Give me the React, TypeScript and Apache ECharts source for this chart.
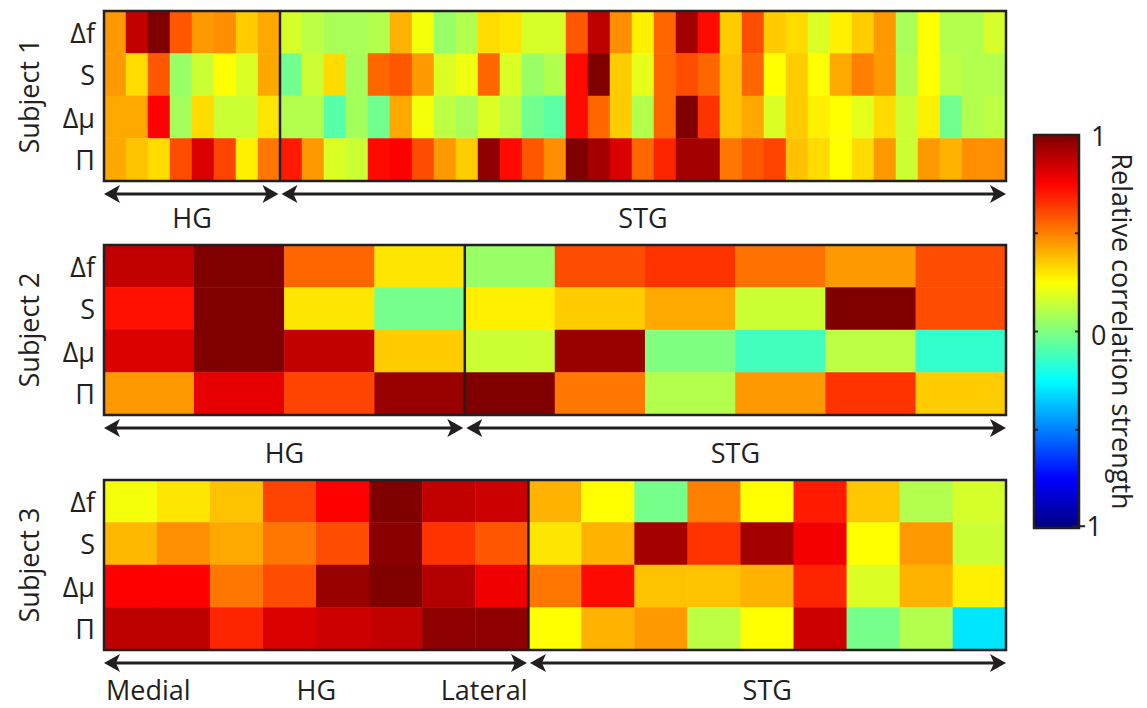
import React, { useEffect, useRef } from "react";
import * as echarts from "echarts";

// Row (feature) labels, top to bottom
const rowLabels = ["Δf", "S", "Δμ", "Π"];

// Subject 1: 8 HG electrodes followed by 33 STG electrodes
const s1Df = [0.45, 0.87, 1.0, 0.58, 0.45, 0.47, 0.35, 0.42, 0.17, 0.12, 0.08, 0.08, 0.1, 0.4, 0.23, 0.05, 0.1, 0.32, 0.3, 0.17, 0.17, 0.58, 0.88, 0.47, 0.28, 0.55, 0.93, 0.73, 0.35, 0.6, 0.35, 0.32, 0.18, 0.28, 0.35, 0.45, 0.08, 0.25, 0.1, 0.1, 0.17];
const s1S = [0.45, 0.32, 0.58, 0.05, 0.15, 0.25, 0.18, 0.42, -0.03, 0.15, 0.32, 0.07, 0.55, 0.58, 0.45, 0.18, 0.22, 0.55, 0.18, 0.05, 0.1, 0.73, 1.0, 0.35, 0.2, 0.55, 0.6, 0.55, 0.37, 0.55, 0.25, 0.35, 0.25, 0.42, 0.5, 0.45, 0.1, 0.25, 0.12, 0.1, 0.1];
const s1Dmu = [0.42, 0.42, 0.75, 0.07, 0.32, 0.15, 0.15, 0.3, 0.1, 0.1, -0.08, 0.07, -0.03, 0.42, 0.23, 0.12, 0.08, 0.18, 0.12, -0.03, -0.07, 0.73, 0.55, 0.35, 0.1, 0.55, 1.0, 0.65, 0.37, 0.42, 0.18, 0.35, 0.28, 0.25, 0.2, 0.32, 0.15, 0.28, -0.03, 0.1, 0.12];
const s1Pi = [0.42, 0.37, 0.32, 0.6, 0.82, 0.62, 0.28, 0.52, 0.7, 0.45, 0.18, 0.15, 0.73, 0.75, 0.6, 0.45, 0.35, 0.97, 0.73, 0.58, 0.47, 1.0, 0.93, 0.82, 0.55, 0.68, 0.93, 0.93, 0.52, 0.58, 0.62, 0.37, 0.32, 0.25, 0.32, 0.45, 0.15, 0.45, 0.4, 0.47, 0.47];
const s1HgCount = 8;

// Subject 2: 4 HG electrodes followed by 6 STG electrodes
const s2Df = [0.87, 1.0, 0.55, 0.3, 0.05, 0.6, 0.65, 0.53, 0.45, 0.6];
const s2S = [0.72, 1.0, 0.3, -0.02, 0.28, 0.35, 0.42, 0.15, 1.0, 0.6];
const s2Dmu = [0.82, 1.0, 0.87, 0.35, 0.15, 0.95, 0.0, -0.12, 0.12, -0.15];
const s2Pi = [0.45, 0.8, 0.62, 0.95, 1.0, 0.52, 0.1, 0.45, 0.65, 0.35];
const s2HgCount = 4;

// Subject 3: 8 HG electrodes (medial to lateral) followed by 9 STG electrodes
const s3Df = [0.23, 0.3, 0.37, 0.62, 0.75, 1.0, 0.87, 0.85, 0.4, 0.25, -0.02, 0.5, 0.25, 0.7, 0.36, 0.1, 0.17];
const s3S = [0.39, 0.47, 0.42, 0.52, 0.6, 0.98, 0.65, 0.58, 0.3, 0.4, 0.93, 0.65, 0.93, 0.77, 0.25, 0.45, 0.15];
const s3Dmu = [0.75, 0.75, 0.52, 0.6, 0.95, 1.0, 0.9, 0.78, 0.52, 0.73, 0.37, 0.37, 0.4, 0.68, 0.18, 0.4, 0.28];
const s3Pi = [0.88, 0.88, 0.68, 0.82, 0.85, 0.87, 0.97, 0.97, 0.25, 0.4, 0.45, 0.12, 0.25, 0.85, -0.02, 0.1, -0.3];
const s3HgCount = 8;

const subjectNames = ["Subject 1", "Subject 2", "Subject 3"];
const colorbarTicks = [-0.5, 0, 0.5];
const colorbarLabels = [
  { v: 1, text: "1" },
  { v: 0, text: "0" },
  { v: -1, text: "−1" },
];

// Jet colormap, evenly spaced stops (piecewise linear between them)
const jet = ["#000080", "#0000ff", "#0080ff", "#00ffff", "#80ff80", "#ffff00", "#ff8000", "#ff0000", "#800000"];

const FONT = '"Open Sans", "Noto Sans", sans-serif';
const INK = "#231f20";

const subjects = [
  { rows: [s1Df, s1S, s1Dmu, s1Pi], hg: s1HgCount },
  { rows: [s2Df, s2S, s2Dmu, s2Pi], hg: s2HgCount },
  { rows: [s3Df, s3S, s3Dmu, s3Pi], hg: s3HgCount },
];

// Layout (pixels)
const GRID_LEFT = 104;
const GRID_WIDTH = 902;
const GRID_HEIGHT = 170;
const GRID_TOPS = [11, 245, 480];
const ARROW_GAP = 13;
const LABEL_GAP = [36, 37, 39];
const CB = { left: 1034, top: 135, width: 45, height: 393 };

function arrowShapes(x1: number, x2: number, y: number) {
  const hl = 16;
  const hh = 9;
  const stroke = { stroke: INK, lineWidth: 3 };
  return [
    { type: "line", silent: true, z: 20, shape: { x1: x1 + 8, y1: y, x2: x2 - 8, y2: y }, style: stroke },
    {
      type: "polygon", silent: true, z: 21,
      shape: { points: [[x1, y], [x1 + hl, y - hh], [x1 + hl - 4, y], [x1 + hl, y + hh]] },
      style: { fill: INK },
    },
    {
      type: "polygon", silent: true, z: 21,
      shape: { points: [[x2, y], [x2 - hl, y - hh], [x2 - hl + 4, y], [x2 - hl, y + hh]] },
      style: { fill: INK },
    },
  ];
}

function label(text: string, x: number, y: number, align = "center", rotation = 0) {
  return {
    type: "text",
    silent: true,
    z: 20,
    x,
    y,
    rotation,
    style: { text, fontSize: 27, fontFamily: FONT, fill: INK, align, verticalAlign: "middle" },
  };
}

export default function App() {
  const ref = useRef<HTMLDivElement>(null);

  useEffect(() => {
    if (!ref.current) return;
    const chart = echarts.init(ref.current, null, { renderer: "svg" });

    const option: any = {
      animation: false,
      backgroundColor: "#ffffff",
      grid: subjects.map((_, i) => ({
        left: GRID_LEFT,
        top: GRID_TOPS[i],
        width: GRID_WIDTH,
        height: GRID_HEIGHT,
      })),
      xAxis: subjects.map((s, i) => ({
        type: "category",
        gridIndex: i,
        data: s.rows[0].map((_, k) => k),
        show: false,
      })),
      yAxis: subjects.map((_, i) => ({
        type: "category",
        gridIndex: i,
        data: rowLabels,
        inverse: true,
        axisLine: { show: false },
        axisTick: { show: false },
        splitLine: { show: false },
        axisLabel: { fontSize: 27, fontFamily: FONT, color: INK, margin: 9 },
      })),
      visualMap: {
        type: "continuous",
        min: -1,
        max: 1,
        seriesIndex: [0, 1, 2],
        inRange: { color: jet },
        orient: "vertical",
        left: CB.left,
        top: CB.top,
        itemWidth: CB.width,
        itemHeight: CB.height,
        padding: 0,
        calculable: false,
        hoverLink: false,
        showLabel: false,
      },
      series: subjects.map((s, i) => ({
        type: "heatmap",
        xAxisIndex: i,
        yAxisIndex: i,
        data: s.rows.flatMap((row, r) => row.map((v, c) => [c, r, v])),
        emphasis: { disabled: true },
        itemStyle: { borderWidth: 0 },
      })),
    };
    chart.setOption(option);

    const g: any[] = [];
    subjects.forEach((s, i) => {
      const top = GRID_TOPS[i];
      const bottom = top + GRID_HEIGHT;
      const right = GRID_LEFT + GRID_WIDTH;
      const a = chart.convertToPixel({ xAxisIndex: i } as any, s.hg - 1) as unknown as number;
      const b = chart.convertToPixel({ xAxisIndex: i } as any, s.hg) as unknown as number;
      const split = (a + b) / 2;

      // frame and HG / STG divider
      g.push({
        type: "rect", silent: true, z: 15,
        shape: { x: GRID_LEFT, y: top, width: GRID_WIDTH, height: GRID_HEIGHT },
        style: { fill: "none", stroke: INK, lineWidth: 2.5 },
      });
      g.push({
        type: "line", silent: true, z: 15,
        shape: { x1: split, y1: top, x2: split, y2: bottom },
        style: { stroke: INK, lineWidth: 2.5 },
      });

      // region arrows
      const ay = bottom + ARROW_GAP;
      g.push(...arrowShapes(GRID_LEFT, split - 1.5, ay));
      g.push(...arrowShapes(split + 1.5, right, ay));

      const ly = bottom + LABEL_GAP[i];
      g.push(label("HG", (GRID_LEFT + split) / 2, ly));
      g.push(label("STG", (split + right) / 2, ly));
      if (i === 2) {
        g.push(label("Medial", GRID_LEFT + 2, ly, "left"));
        g.push(label("Lateral", split - 1, ly, "right"));
      }

      g.push(label(subjectNames[i], 28, top + GRID_HEIGHT / 2, "center", Math.PI / 2));
    });

    // colour bar frame, ticks and labels
    const vy = (v: number) => CB.top + (1 - (v + 1) / 2) * CB.height;
    g.push({
      type: "rect", silent: true, z: 15,
      shape: { x: CB.left, y: CB.top, width: CB.width, height: CB.height },
      style: { fill: "none", stroke: INK, lineWidth: 2.5 },
    });
    colorbarTicks.forEach((v) => {
      const y = vy(v);
      g.push({ type: "line", silent: true, z: 16, shape: { x1: CB.left, y1: y, x2: CB.left + 4, y2: y }, style: { stroke: INK, lineWidth: 2 } });
      g.push({ type: "line", silent: true, z: 16, shape: { x1: CB.left + CB.width - 4, y1: y, x2: CB.left + CB.width, y2: y }, style: { stroke: INK, lineWidth: 2 } });
    });
    colorbarLabels.forEach((l) => {
      const y = vy(l.v) + (l.v === 0 ? 3 : 0);
      if (l.v < 0) g.push(label(l.text, 1102, y - 3, "right"));
      else g.push(label(l.text, 1091, y, "left"));
    });
    g.push(label("Relative correlation strength", 1122, CB.top + CB.height / 2, "center", -Math.PI / 2));

    chart.setOption({ graphic: g });

    return () => chart.dispose();
  }, []);

  return (
    <div
      ref={ref}
      style={{ position: "fixed", left: 0, top: 0, width: 1147, height: 708, background: "#fff" }}
    />
  );
}
